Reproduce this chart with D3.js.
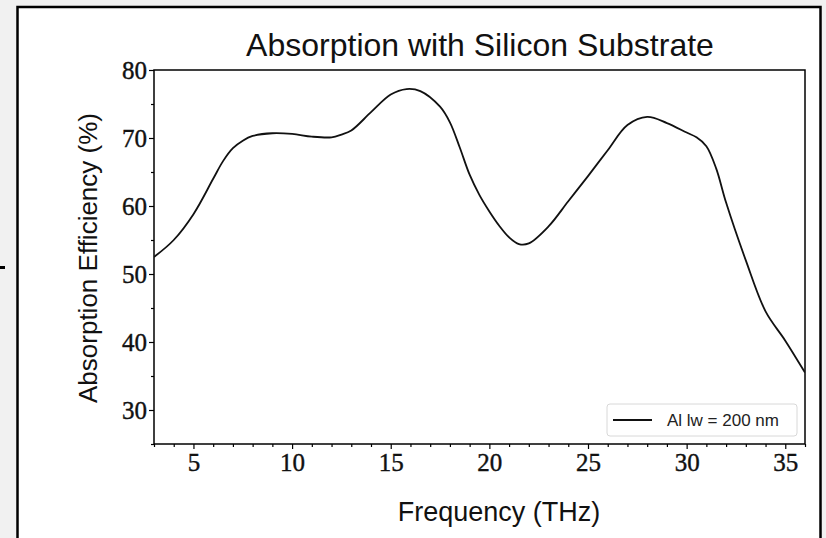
<!DOCTYPE html>
<html>
<head>
<meta charset="utf-8">
<script src="https://cdn.jsdelivr.net/npm/d3@7"></script>
<style>
  html, body { margin: 0; padding: 0; background: #f1f1f1; }
  svg { display: block; }
</style>
</head>
<body>
<script>
// Absorption spectrum, Al linewidth 200 nm on silicon substrate
const frequency = [3, 4, 5, 6, 6.5, 7, 7.5, 8, 9, 10, 11, 12, 12.5, 13, 14, 15, 15.8, 16.5, 17.5, 18, 18.5, 19, 19.5, 20, 20.5, 21, 21.5, 22, 23, 24, 25, 26, 27, 28, 29, 30, 30.5, 31, 31.5, 32, 33, 34, 35, 36];
const absorption = [52.5, 55.0, 58.8, 64.0, 66.6, 68.5, 69.6, 70.3, 70.7, 70.6, 70.2, 70.1, 70.5, 71.1, 73.8, 76.4, 77.2, 76.9, 74.6, 72.3, 68.6, 64.6, 61.6, 59.2, 57.1, 55.4, 54.4, 54.5, 57.0, 60.7, 64.4, 68.2, 71.9, 73.1, 72.2, 70.8, 70.1, 68.8, 65.5, 60.5, 52.0, 44.5, 40.2, 35.5];
const xTicks = [5, 10, 15, 20, 25, 30, 35];
const yTicks = [30, 40, 50, 60, 70, 80];
const xDomain = [3, 36];
const yDomain = [25, 80];
const seriesLabel = "Al lw = 200 nm";

const W = 826, H = 538;
const plot = { left: 154, right: 805, top: 70, bottom: 444 };

const svg = d3.select("body").append("svg").attr("width", W).attr("height", H);

// figure panel
svg.append("rect").attr("x", 17.5).attr("y", 7).attr("width", 803).attr("height", H + 10)
  .attr("fill", "#fff").attr("stroke", "#000").attr("stroke-width", 2.5);
svg.append("rect").attr("x", 0).attr("y", 266).attr("width", 5).attr("height", 3).attr("fill", "#000");

const x = d3.scaleLinear().domain(xDomain).range([plot.left, plot.right]);
const y = d3.scaleLinear().domain(yDomain).range([plot.bottom, plot.top]);

const serif = "'Liberation Serif', 'DejaVu Serif', serif";
const sans = "'Liberation Sans', Arial, sans-serif";

// minor ticks
const xMinor = d3.range(Math.ceil(xDomain[0]), Math.floor(xDomain[1]) + 1).filter(v => !xTicks.includes(v));
const yMinor = d3.range(25, 81, 5).filter(v => !yTicks.includes(v));

const xAxis = svg.append("g").attr("transform", `translate(0,${plot.bottom})`);
xAxis.call(d3.axisBottom(x).tickValues(xMinor).tickSize(3).tickFormat(""));
xAxis.append("g").call(d3.axisBottom(x).tickValues(xTicks).tickSize(5).tickPadding(4).tickFormat(d3.format("d")));
xAxis.selectAll(".domain").remove();

const yAxis = svg.append("g").attr("transform", `translate(${plot.left},0)`);
yAxis.call(d3.axisLeft(y).tickValues(yMinor).tickSize(3).tickFormat(""));
yAxis.append("g").call(d3.axisLeft(y).tickValues(yTicks).tickSize(5).tickPadding(2).tickFormat(d3.format("d")));
yAxis.selectAll(".domain").remove();

svg.selectAll(".tick line").attr("stroke", "#000").attr("stroke-width", 1.2);
svg.selectAll(".tick text").attr("font-family", serif).attr("font-size", 25).attr("fill", "#111")
  .attr("stroke", "#111").attr("stroke-width", 0.4);

// plot frame
svg.append("rect").attr("x", plot.left).attr("y", plot.top)
  .attr("width", plot.right - plot.left).attr("height", plot.bottom - plot.top)
  .attr("fill", "none").attr("stroke", "#000").attr("stroke-width", 1.5);

// curve
const pts = frequency.map((f, i) => [f, absorption[i]]);
const clipId = "plotclip";
svg.append("clipPath").attr("id", clipId).append("rect")
  .attr("x", plot.left).attr("y", plot.top).attr("width", plot.right - plot.left).attr("height", plot.bottom - plot.top);
svg.append("path").datum(pts)
  .attr("clip-path", `url(#${clipId})`)
  .attr("d", d3.line().x(d => x(d[0])).y(d => y(d[1])).curve(d3.curveCatmullRom.alpha(0.5)))
  .attr("fill", "none").attr("stroke", "#111").attr("stroke-width", 1.8);

// legend (lower right)
const lg = svg.append("g");
lg.append("rect").attr("x", 607).attr("y", 404).attr("width", 190).attr("height", 32).attr("rx", 3)
  .attr("fill", "#fff").attr("fill-opacity", 0.8).attr("stroke", "#d8d8d8").attr("stroke-width", 1);
lg.append("line").attr("x1", 613).attr("x2", 652).attr("y1", 420).attr("y2", 420)
  .attr("stroke", "#111").attr("stroke-width", 1.8);
lg.append("text").attr("x", 667).attr("y", 426).text(seriesLabel)
  .attr("font-family", sans).attr("font-size", 17).attr("fill", "#222");

// titles
svg.append("text").attr("x", 480).attr("y", 56).attr("text-anchor", "middle")
  .attr("font-family", sans).attr("font-size", 32).attr("fill", "#111")
  .text("Absorption with Silicon Substrate");
svg.append("text").attr("x", 499).attr("y", 521).attr("text-anchor", "middle")
  .attr("font-family", sans).attr("font-size", 27).attr("fill", "#111")
  .text("Frequency (THz)");
svg.append("text").attr("transform", "translate(97,258) rotate(-90)").attr("text-anchor", "middle")
  .attr("font-family", sans).attr("font-size", 26).attr("fill", "#111")
  .text("Absorption Efficiency (%)");
</script>
</body>
</html>
